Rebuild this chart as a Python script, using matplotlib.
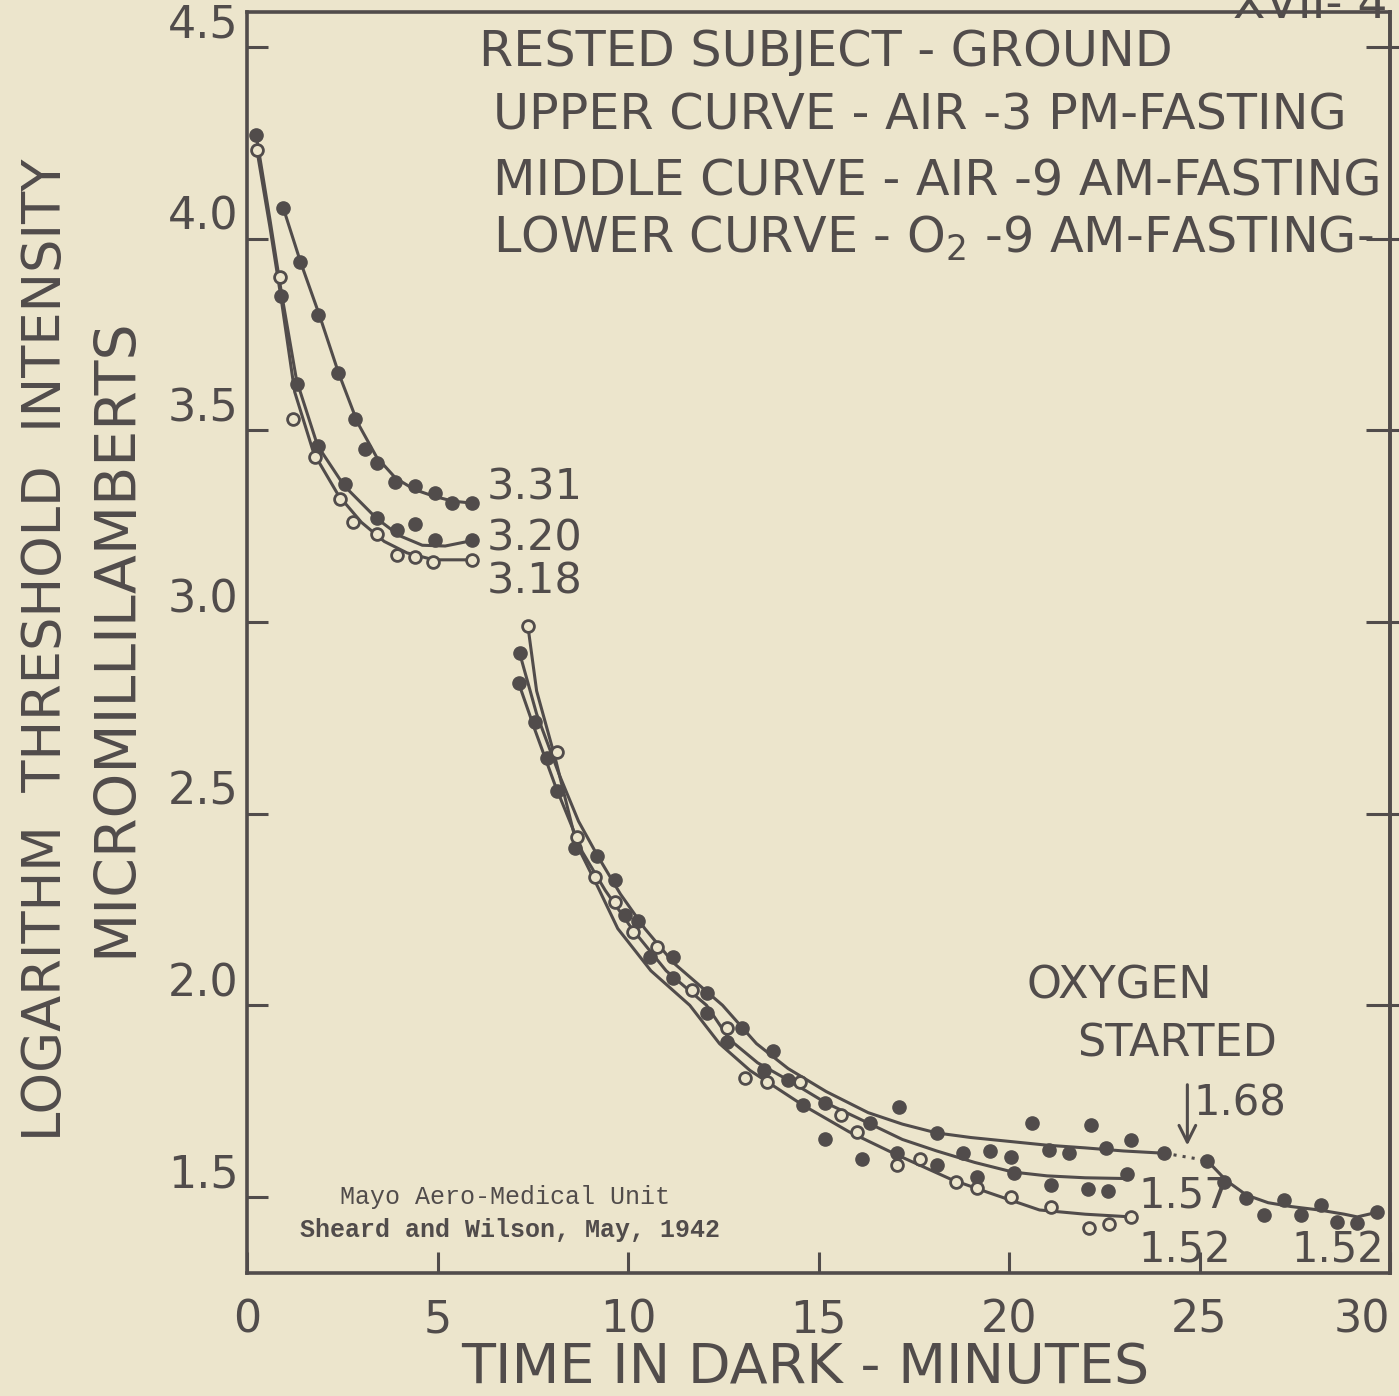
import numpy as np
import matplotlib.pyplot as plt

# Dark adaptation curves, rested subject on the ground (Sheard and Wilson 1942)
# values

# --- first (cone) part, 0-6 min ---
up1_x = [0.95, 1.4, 1.86, 2.39, 2.83, 3.09, 3.41, 3.88, 4.41, 4.93, 5.38, 5.9]
up1_y = [4.08, 3.94, 3.80, 3.65, 3.53, 3.45, 3.415, 3.365, 3.355, 3.335, 3.31, 3.31]
up1_cx = [0.95, 1.4, 1.9, 2.4, 2.9, 3.4, 3.9, 4.4, 4.9, 5.4, 5.9]
up1_cy = [4.08, 3.94, 3.80, 3.65, 3.52, 3.43, 3.375, 3.345, 3.328, 3.315, 3.31]

mid1_x = [0.24, 0.9, 1.31, 1.86, 2.57, 3.41, 3.93, 4.41, 4.93, 5.9]
mid1_y = [4.27, 3.85, 3.62, 3.46, 3.36, 3.27, 3.24, 3.255, 3.215, 3.215]
mid1_cx = [0.24, 0.6, 0.9, 1.3, 1.85, 2.55, 3.4, 4.0, 4.6, 5.2, 5.9]
mid1_cy = [4.27, 4.05, 3.86, 3.63, 3.46, 3.355, 3.27, 3.225, 3.2, 3.198, 3.212]

low1_x = [0.26, 0.87, 1.21, 1.78, 2.44, 2.78, 3.41, 3.93, 4.41, 4.88, 5.9]
low1_y = [4.23, 3.90, 3.53, 3.43, 3.32, 3.26, 3.23, 3.175, 3.17, 3.157, 3.162]
low1_cx = [0.26, 0.6, 0.9, 1.25, 1.75, 2.4, 3.0, 3.6, 4.2, 4.9, 5.9]
low1_cy = [4.23, 4.03, 3.84, 3.60, 3.44, 3.33, 3.26, 3.21, 3.18, 3.162, 3.162]

# --- second (rod) part ---
# filled points, air (upper and middle curves together)
air2_x = [7.16, 7.13, 7.55, 7.87, 8.13, 8.6, 9.18, 9.65, 9.91, 10.25, 10.57, 11.17,
          11.17, 12.06, 12.06, 13.0, 12.59, 13.8, 13.58, 14.19, 14.58, 15.16, 16.34,
          15.16, 16.13, 17.12, 18.1, 17.05, 18.12, 18.78, 19.49, 20.06, 19.17, 20.14,
          20.59, 22.16, 21.06, 21.58, 22.55, 23.21, 24.08, 21.1, 22.06, 22.6, 23.1]
air2_y = [2.92, 2.84, 2.74, 2.645, 2.56, 2.41, 2.39, 2.327, 2.235, 2.22, 2.126, 2.126,
          2.07, 2.032, 1.98, 1.94, 1.905, 1.88, 1.83, 1.805, 1.74, 1.745, 1.693,
          1.65, 1.60, 1.735, 1.667, 1.615, 1.583, 1.615, 1.62, 1.604, 1.552, 1.562,
          1.693, 1.688, 1.622, 1.614, 1.627, 1.649, 1.614, 1.53, 1.52, 1.516, 1.56]
# open points, oxygen
ox2_x = [7.37, 8.13, 8.65, 9.13, 9.65, 10.12, 10.75, 11.67, 12.59, 13.06, 13.64,
         14.5, 15.6, 16.02, 17.07, 17.65, 18.62, 19.17, 20.06, 21.1, 22.1, 22.63, 23.2]
ox2_y = [2.99, 2.66, 2.44, 2.335, 2.27, 2.19, 2.152, 2.04, 1.94, 1.81, 1.80,
         1.80, 1.714, 1.67, 1.583, 1.60, 1.539, 1.523, 1.50, 1.474, 1.42, 1.43, 1.448]

up2_cx = [7.15, 7.6, 8.2, 8.7, 9.2, 9.8, 10.44, 11.2, 12.48, 13.37, 14.2, 15.2, 16.3,
          17.2, 18.1, 19.0, 20.0, 21.0, 22.0, 23.0, 24.08]
up2_cy = [2.92, 2.76, 2.60, 2.48, 2.39, 2.29, 2.20, 2.11, 2.0, 1.90, 1.835, 1.775, 1.72,
          1.69, 1.667, 1.655, 1.645, 1.635, 1.628, 1.62, 1.614]
mid2_cx = [7.13, 7.55, 8.1, 8.8, 9.4, 10.1, 11.0, 12.06, 12.67, 13.4, 14.2, 15.2, 16.3,
           17.2, 18.1, 19.1, 20.1, 21.0, 22.0, 23.1]
mid2_cy = [2.84, 2.72, 2.57, 2.40, 2.30, 2.20, 2.09, 2.0, 1.91, 1.85, 1.805, 1.745, 1.693,
           1.65, 1.62, 1.59, 1.565, 1.555, 1.55, 1.548]
low2_cx = [7.37, 7.6, 8.1, 8.65, 9.2, 9.73, 10.6, 11.62, 12.4, 13.2, 14.58, 15.8, 17.05,
           18.5, 19.5, 20.8, 22.0, 23.2]
low2_cy = [2.99, 2.82, 2.64, 2.42, 2.31, 2.20, 2.09, 2.0, 1.90, 1.83, 1.74, 1.67, 1.61,
           1.545, 1.51, 1.466, 1.455, 1.448]

# oxygen started at 24 min on the upper curve
o2_x = [25.2, 25.65, 26.23, 26.7, 27.22, 27.67, 28.19, 28.61, 29.14, 29.66]
o2_y = [1.595, 1.539, 1.497, 1.453, 1.492, 1.453, 1.48, 1.435, 1.432, 1.46]
o2_cx = [25.2, 25.7, 26.23, 26.8, 27.4, 28.14, 28.8, 29.14, 29.66]
o2_cy = [1.595, 1.543, 1.505, 1.485, 1.475, 1.466, 1.455, 1.448, 1.46]

xticks = [0, 5, 10, 15, 20, 25, 30]
yticks = [1.5, 2.0, 2.5, 3.0, 3.5, 4.0, 4.5]

ink = '#514c4b'
paper = '#ece5cc'

plt.rcParams['font.family'] = ['DejaVu Sans']

fig = plt.figure(figsize=(13.99, 13.96), dpi=100, facecolor=paper)
ax = fig.add_axes([0.1766, 0.0881, 0.8170, 0.9033])
ax.set_facecolor(paper)

lw = 2.2
ms = 9.5
for cx, cy in [(up1_cx, up1_cy), (mid1_cx, mid1_cy), (low1_cx, low1_cy),
               (up2_cx, up2_cy), (mid2_cx, mid2_cy), (low2_cx, low2_cy), (o2_cx, o2_cy)]:
    ax.plot(cx, cy, color=ink, lw=lw, solid_capstyle='round')
# dotted gap where oxygen was switched on
ax.plot([up2_cx[-1], o2_cx[0]], [up2_cy[-1], o2_cy[0]], color=ink, lw=lw, ls=(0, (1, 2)))

filled = dict(ls='none', marker='o', ms=ms, color=ink, mec=ink)
hollow = dict(ls='none', marker='o', ms=ms - 1, mfc=paper, mec=ink, mew=2)
ax.plot(up1_x, up1_y, **filled)
ax.plot(mid1_x, mid1_y, **filled)
ax.plot(low1_x, low1_y, **hollow)
ax.plot(air2_x, air2_y, **filled)
ax.plot(ox2_x, ox2_y, **hollow)
ax.plot(o2_x, o2_y, **filled)

ax.set_xlim(0, 30)
ax.set_ylim(1.3016, 4.591)
ax.set_xticks(xticks)
ax.set_xticklabels([str(t) for t in xticks])
ax.set_yticks(yticks)
ax.set_yticklabels(['%.1f' % t for t in yticks])
for lab in ax.get_yticklabels():
    lab.set_verticalalignment('bottom')
ax.get_xticklabels()[-1].set_horizontalalignment('right')
ax.tick_params(direction='in', length=15, width=2.2, color=ink, labelcolor=ink,
               labelsize=32)
ax.tick_params(axis='y', pad=6)
ax.tick_params(axis='x', pad=18)
for s in ax.spines.values():
    s.set_color(ink)
    s.set_linewidth(2.6)

# right side ticks go through the frame
sec = ax.secondary_yaxis('right')
sec.set_ticks([2.0, 2.5, 3.0, 3.5, 4.0, 4.5])
sec.tick_params(direction='inout', length=34, width=2.2, color=ink, labelright=False)
sec.spines['right'].set_color(ink)
sec.spines['right'].set_linewidth(2.6)

# legend block at the top
big = 35.5
ax.text(15.2, 4.487, 'RESTED SUBJECT - GROUND', fontsize=big, color=ink, ha='center', va='center')
ax.text(6.45, 4.32, 'UPPER CURVE - AIR -3 PM-FASTING', fontsize=big, color=ink, ha='left', va='center')
ax.text(6.45, 4.15, 'MIDDLE CURVE - AIR -9 AM-FASTING', fontsize=big, color=ink, ha='left', va='center')
ax.text(6.45, 4.0, 'LOWER CURVE - O$_\\mathregular{2}$ -9 AM-FASTING-', fontsize=big, color=ink,
        ha='left', va='center')

# end values of the curves
ax.text(6.3, 3.35, '3.31', fontsize=31, color=ink, ha='left', va='center')
ax.text(6.3, 3.218, '3.20', fontsize=31, color=ink, ha='left', va='center')
ax.text(6.3, 3.105, '3.18', fontsize=31, color=ink, ha='left', va='center')

ax.text(22.9, 2.05, 'OXYGEN', fontsize=32, color=ink, ha='center', va='center')
ax.text(24.4, 1.90, 'STARTED', fontsize=32, color=ink, ha='center', va='center')
ax.annotate('', xy=(24.68, 1.627), xytext=(24.68, 1.80),
            arrowprops=dict(arrowstyle='->', color=ink, lw=2.2, mutation_scale=30))
ax.text(24.85, 1.745, '1.68', fontsize=30, color=ink, ha='left', va='center')
ax.text(23.4, 1.505, '1.57', fontsize=30, color=ink, ha='left', va='center')
ax.text(23.4, 1.36, '1.52', fontsize=30, color=ink, ha='left', va='center')
ax.text(29.85, 1.36, '1.52', fontsize=30, color=ink, ha='right', va='center')

# typed credit
ax.text(6.77, 1.50, 'Mayo Aero-Medical Unit', fontsize=18, color=ink, ha='center',
        va='center', family='Liberation Mono')
ax.text(6.9, 1.415, 'Sheard and Wilson, May, 1942', fontsize=18, color=ink, ha='center',
        va='center', family='Liberation Mono', fontweight='bold')

# axis titles
fig.text(805 / 1399, 1 - 1368 / 1396, 'TIME IN DARK - MINUTES', fontsize=40, color=ink,
         ha='center', va='center')
fig.text(46 / 1399, 1 - 650 / 1396, 'LOGARITHM  THRESHOLD  INTENSITY', fontsize=38,
         color=ink, ha='center', va='center', rotation=90)
fig.text(116 / 1399, 1 - 637 / 1396, 'MICROMILLILAMBERTS', fontsize=41, color=ink,
         ha='center', va='center', rotation=90)
# page number, cut by the top edge of the scan
fig.text(1310 / 1399, 1 - 6 / 1396, 'XVII- 4', fontsize=34, color=ink, ha='center', va='center')

fig.savefig('out.png', dpi=100, facecolor=paper)
